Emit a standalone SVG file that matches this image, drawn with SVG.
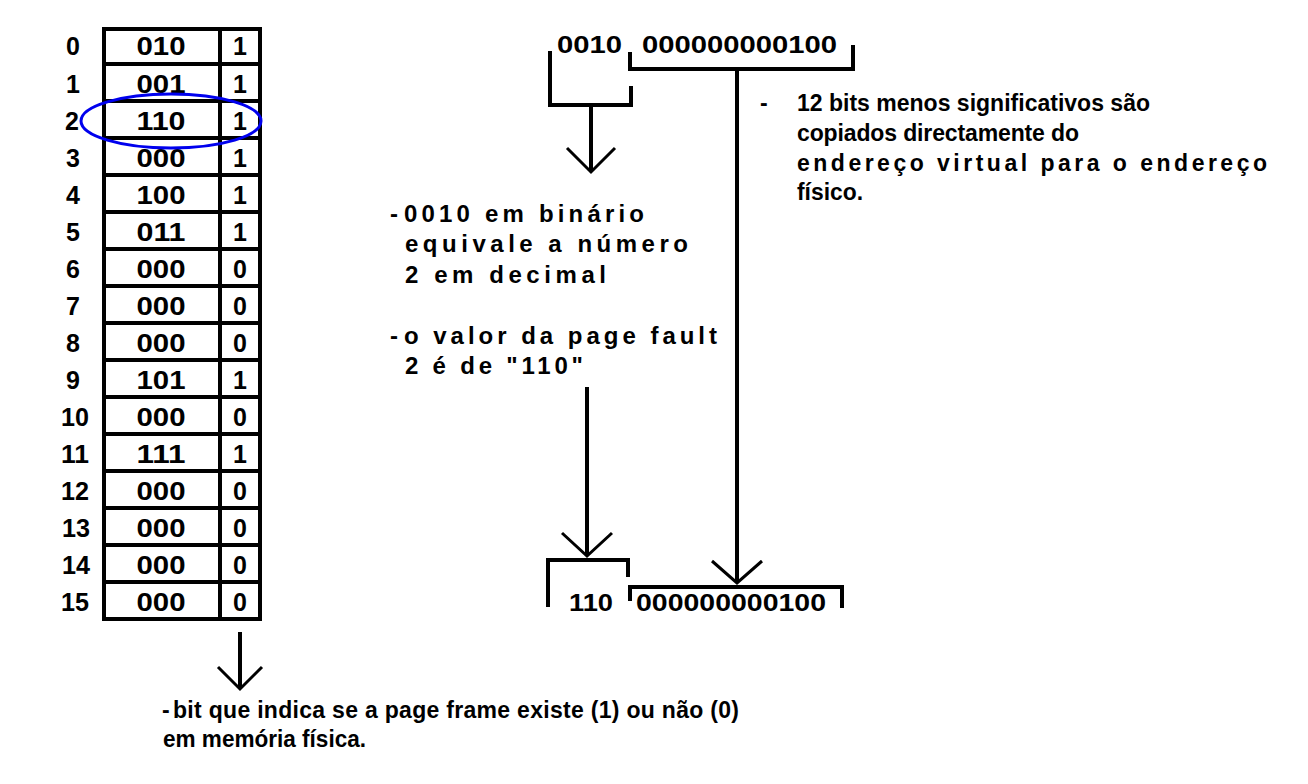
<svg xmlns="http://www.w3.org/2000/svg" width="1308" height="784" viewBox="0 0 1308 784">
<style>
text{font-family:"Liberation Sans",Arial,sans-serif;font-weight:bold;fill:#000}
.t{font-size:25px}
.d{font-size:23px}
.r{font-size:23px}
.m{font-size:24px}
.ln{stroke:#000;stroke-width:4;fill:none}
.ar{stroke:#000;stroke-width:3;fill:none}
</style>
<rect width="1308" height="784" fill="#fff"/>
<g id="page-table">
<rect class="ln" x="104" y="29" width="156" height="590"/>
<path class="ln" d="M220,29V619M104,64H260M104,101H260M104,138H260M104,175H260M104,212H260M104,249H260M104,286H260M104,323H260M104,360H260M104,397H260M104,434H260M104,471H260M104,508H260M104,545H260M104,582H260"/>
<g class="t" text-anchor="middle">
<text x="161" y="55" textLength="49" lengthAdjust="spacingAndGlyphs">010</text><text x="240" y="55">1</text>
<text x="161" y="93" textLength="49" lengthAdjust="spacingAndGlyphs">001</text><text x="240" y="93">1</text>
<text x="161" y="130" textLength="49" lengthAdjust="spacingAndGlyphs">110</text><text x="240" y="130">1</text>
<text x="161" y="167" textLength="49" lengthAdjust="spacingAndGlyphs">000</text><text x="240" y="167">1</text>
<text x="161" y="204" textLength="49" lengthAdjust="spacingAndGlyphs">100</text><text x="240" y="204">1</text>
<text x="161" y="241" textLength="49" lengthAdjust="spacingAndGlyphs">011</text><text x="240" y="241">1</text>
<text x="161" y="278" textLength="49" lengthAdjust="spacingAndGlyphs">000</text><text x="240" y="278">0</text>
<text x="161" y="315" textLength="49" lengthAdjust="spacingAndGlyphs">000</text><text x="240" y="315">0</text>
<text x="161" y="352" textLength="49" lengthAdjust="spacingAndGlyphs">000</text><text x="240" y="352">0</text>
<text x="161" y="389" textLength="49" lengthAdjust="spacingAndGlyphs">101</text><text x="240" y="389">1</text>
<text x="161" y="426" textLength="49" lengthAdjust="spacingAndGlyphs">000</text><text x="240" y="426">0</text>
<text x="161" y="463" textLength="49" lengthAdjust="spacingAndGlyphs">111</text><text x="240" y="463">1</text>
<text x="161" y="500" textLength="49" lengthAdjust="spacingAndGlyphs">000</text><text x="240" y="500">0</text>
<text x="161" y="537" textLength="49" lengthAdjust="spacingAndGlyphs">000</text><text x="240" y="537">0</text>
<text x="161" y="574" textLength="49" lengthAdjust="spacingAndGlyphs">000</text><text x="240" y="574">0</text>
<text x="161" y="611" textLength="49" lengthAdjust="spacingAndGlyphs">000</text><text x="240" y="611">0</text>
</g>
</g>
<g id="row-indices" class="t">
<text x="66" y="55">0</text>
<text x="66" y="93">1</text>
<text x="65" y="130">2</text>
<text x="66" y="167">3</text>
<text x="66" y="204">4</text>
<text x="66" y="241">5</text>
<text x="66" y="278">6</text>
<text x="66" y="315">7</text>
<text x="66" y="352">8</text>
<text x="66" y="389">9</text>
<text x="61" y="426" textLength="28" lengthAdjust="spacingAndGlyphs">10</text>
<text x="61" y="463" textLength="28" lengthAdjust="spacingAndGlyphs">11</text>
<text x="61" y="500" textLength="28" lengthAdjust="spacingAndGlyphs">12</text>
<text x="62" y="537" textLength="28" lengthAdjust="spacingAndGlyphs">13</text>
<text x="62" y="574" textLength="28" lengthAdjust="spacingAndGlyphs">14</text>
<text x="61" y="611" textLength="28" lengthAdjust="spacingAndGlyphs">15</text>
</g>
<g id="highlight">
<ellipse cx="171" cy="121" rx="90" ry="27" fill="none" stroke="#0000ee" stroke-width="3"/>
</g>
<g id="virtual-address" class="d">
<text x="557" y="53" textLength="65" lengthAdjust="spacingAndGlyphs">0010</text>
<text x="642" y="53" textLength="195" lengthAdjust="spacingAndGlyphs">000000000100</text>
</g>
<g id="physical-address" class="d">
<text x="569" y="611" textLength="44" lengthAdjust="spacingAndGlyphs">110</text>
<text x="636" y="611" textLength="190" lengthAdjust="spacingAndGlyphs">000000000100</text>
</g>
<g id="note-offset" class="r">
<text x="760" y="111">-</text>
<text x="797" y="111" textLength="353" lengthAdjust="spacing">12 bits menos significativos são</text>
<text x="797" y="141" textLength="282" lengthAdjust="spacing">copiados directamente do</text>
<text x="797" y="171" textLength="470" lengthAdjust="spacing">endereço virtual para o endereço</text>
<text x="797" y="200" textLength="66" lengthAdjust="spacingAndGlyphs">físico.</text>
</g>
<g id="note-page" class="m">
<text x="390" y="222">-</text>
<text x="404" y="222" textLength="240" lengthAdjust="spacing">0010 em binário</text>
<text x="405" y="252" textLength="283" lengthAdjust="spacing">equivale a número</text>
<text x="405" y="283" textLength="201" lengthAdjust="spacing">2 em decimal</text>
<text x="390" y="344">-</text>
<text x="404" y="344" textLength="313" lengthAdjust="spacing">o valor da page fault</text>
<text x="405" y="374" textLength="178" lengthAdjust="spacing">2 é de "110"</text>
</g>
<g id="note-bit" class="r">
<text x="162" y="718">-</text>
<text x="173" y="718" textLength="566" lengthAdjust="spacing">bit que indica se a page frame existe (1) ou não (0)</text>
<text x="163" y="747" textLength="203" lengthAdjust="spacingAndGlyphs">em memória física.</text>
</g>
<g id="connectors">
<path class="ln" d="M550,51V105H631V86"/>
<path class="ln" d="M630,52V69H853V45"/>
<path class="ln" d="M591,105V172"/>
<path class="ar" d="M567,148L591,172L615,148"/>
<path class="ln" d="M737,69V582"/>
<path class="ar" d="M712,561L737,583L762,561"/>
<path class="ln" d="M587,387V555"/>
<path class="ar" d="M562,533L587,556L612,533"/>
<path class="ln" d="M548,607V560H628V577"/>
<path class="ln" d="M630,601V587H842V608"/>
<path class="ln" d="M240,632V688"/>
<path class="ar" d="M218,667L240,689L262,667"/>
</g>
</svg>
